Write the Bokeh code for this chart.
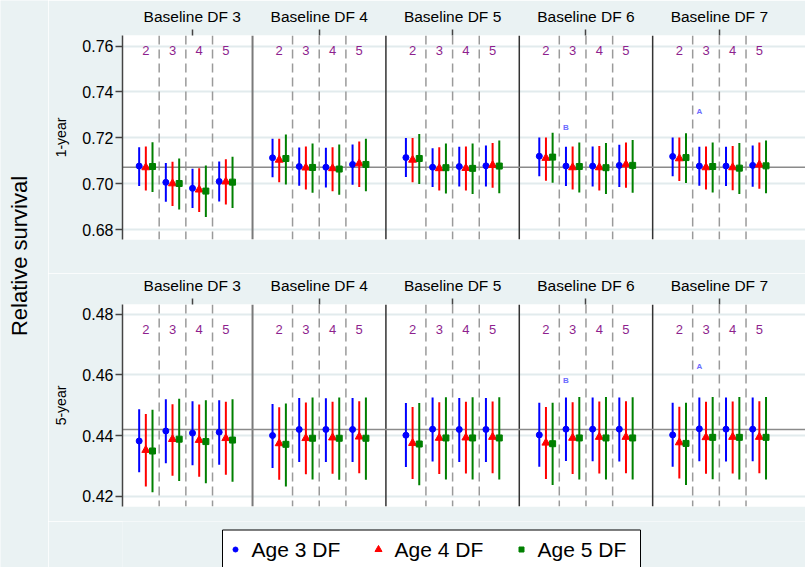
import math
from bokeh.plotting import figure
from bokeh.layouts import row, column
from bokeh.models import Range1d, FixedTicker, Span, PrintfTickFormatter
from bokeh.core.properties import value
from bokeh.embed import file_html
from bokeh.resources import INLINE

FONT = "Liberation Sans"
BG = "#eaf2f3"
PURPLE = "#8e1f8e"
GRID = "#e2ebed"

# ---------------- data ----------------
baseline_labels = ["Baseline DF 3", "Baseline DF 4", "Baseline DF 5", "Baseline DF 6", "Baseline DF 7"]
baseline_tick_pos = [2.74, 7.5, 12.5, 17.5, 22.5]
td_df_labels = ["2", "3", "4", "5"]
series_names = ["Age 3 DF", "Age 4 DF", "Age 5 DF"]
series_colors = ["#0000ff", "#ff0000", "#008000"]
series_markers = ["circle", "triangle", "square"]
series_sizes = [6, 8, 6]
series_offsets = [-0.25, 0.0, 0.25]

yticks_1y = [0.68, 0.70, 0.72, 0.74, 0.76]
yticks_5y = [0.42, 0.44, 0.46, 0.48]

# order: baseline DF 3..7, each with time-dependent DF 2..5
age3_est_1y = [0.7077, 0.7006, 0.6980, 0.7010, 0.7113, 0.7075, 0.7072, 0.7084, 0.7114, 0.7072,
               0.7075, 0.7078, 0.7120, 0.7077, 0.7077, 0.7080, 0.7119, 0.7077, 0.7077, 0.7080]
age3_lo_1y = [0.6990, 0.6922, 0.6894, 0.6923, 0.7028, 0.6991, 0.6984, 0.6996, 0.7029, 0.6986,
              0.6988, 0.6988, 0.7033, 0.6990, 0.6988, 0.6986, 0.7033, 0.6991, 0.6990, 0.6987]
age3_hi_1y = [0.7159, 0.7090, 0.7065, 0.7097, 0.7196, 0.7158, 0.7157, 0.7171, 0.7199, 0.7155,
              0.7161, 0.7167, 0.7201, 0.7161, 0.7162, 0.7170, 0.7201, 0.7161, 0.7161, 0.7167]
age4_est_1y = [0.7071, 0.7001, 0.6974, 0.7009, 0.7104, 0.7070, 0.7067, 0.7088, 0.7104, 0.7067,
               0.7068, 0.7081, 0.7112, 0.7071, 0.7071, 0.7084, 0.7110, 0.7071, 0.7071, 0.7083]
age4_lo_1y = [0.6970, 0.6903, 0.6877, 0.6909, 0.7007, 0.6975, 0.6967, 0.6986, 0.7007, 0.6970,
              0.6970, 0.6983, 0.7013, 0.6975, 0.6970, 0.6983, 0.7012, 0.6975, 0.6972, 0.6978]
age4_hi_1y = [0.7162, 0.7096, 0.7068, 0.7107, 0.7196, 0.7162, 0.7159, 0.7184, 0.7199, 0.7159,
              0.7162, 0.7178, 0.7201, 0.7162, 0.7165, 0.7180, 0.7201, 0.7162, 0.7164, 0.7180]
age5_est_1y = [0.7075, 0.7001, 0.6968, 0.7007, 0.7110, 0.7071, 0.7064, 0.7084, 0.7110, 0.7070,
               0.7067, 0.7077, 0.7116, 0.7075, 0.7070, 0.7080, 0.7114, 0.7075, 0.7068, 0.7078]
age5_lo_1y = [0.6964, 0.6888, 0.6855, 0.6894, 0.6997, 0.6961, 0.6952, 0.6967, 0.6999, 0.6957,
              0.6955, 0.6959, 0.7004, 0.6962, 0.6955, 0.6961, 0.7003, 0.6962, 0.6955, 0.6959]
age5_hi_1y = [0.7181, 0.7110, 0.7080, 0.7118, 0.7215, 0.7175, 0.7171, 0.7196, 0.7217, 0.7175,
              0.7175, 0.7188, 0.7222, 0.7180, 0.7178, 0.7191, 0.7220, 0.7180, 0.7177, 0.7188]

age3_est_5y = [0.4382, 0.4415, 0.4408, 0.4411, 0.4400, 0.4420, 0.4420, 0.4420, 0.4401, 0.4421,
               0.4420, 0.4420, 0.4402, 0.4421, 0.4421, 0.4421, 0.4402, 0.4422, 0.4421, 0.4421]
age3_lo_5y = [0.4279, 0.4309, 0.4302, 0.4304, 0.4293, 0.4313, 0.4313, 0.4313, 0.4296, 0.4314,
              0.4313, 0.4313, 0.4297, 0.4316, 0.4315, 0.4314, 0.4297, 0.4315, 0.4314, 0.4315]
age3_hi_5y = [0.4487, 0.4520, 0.4513, 0.4516, 0.4504, 0.4524, 0.4523, 0.4524, 0.4507, 0.4525,
              0.4524, 0.4524, 0.4508, 0.4525, 0.4525, 0.4525, 0.4508, 0.4525, 0.4525, 0.4525]
age4_est_5y = [0.4352, 0.4388, 0.4385, 0.4391, 0.4374, 0.4391, 0.4393, 0.4396, 0.4375, 0.4392,
               0.4393, 0.4395, 0.4376, 0.4392, 0.4395, 0.4395, 0.4377, 0.4394, 0.4395, 0.4395]
age4_lo_5y = [0.4232, 0.4267, 0.4264, 0.4271, 0.4254, 0.4272, 0.4274, 0.4276, 0.4257, 0.4273,
              0.4275, 0.4276, 0.4257, 0.4273, 0.4275, 0.4276, 0.4258, 0.4274, 0.4275, 0.4276]
age4_hi_5y = [0.4471, 0.4503, 0.4502, 0.4511, 0.4493, 0.4509, 0.4511, 0.4513, 0.4494, 0.4510,
              0.4511, 0.4512, 0.4494, 0.4510, 0.4512, 0.4513, 0.4495, 0.4511, 0.4512, 0.4513]
age5_est_5y = [0.4349, 0.4388, 0.4380, 0.4385, 0.4371, 0.4391, 0.4391, 0.4391, 0.4372, 0.4392,
               0.4392, 0.4392, 0.4373, 0.4392, 0.4392, 0.4392, 0.4374, 0.4394, 0.4394, 0.4394]
age5_lo_5y = [0.4213, 0.4250, 0.4243, 0.4248, 0.4232, 0.4255, 0.4254, 0.4254, 0.4236, 0.4255,
              0.4255, 0.4255, 0.4237, 0.4255, 0.4255, 0.4255, 0.4237, 0.4256, 0.4255, 0.4255]
age5_hi_5y = [0.4485, 0.4521, 0.4516, 0.4520, 0.4506, 0.4525, 0.4525, 0.4525, 0.4507, 0.4526,
              0.4526, 0.4526, 0.4508, 0.4527, 0.4527, 0.4526, 0.4508, 0.4527, 0.4527, 0.4527]

ref_1y = 0.7072
ref_5y = 0.4420

annot_text = ["B", "A"]
annot_baseline = [3, 4]
annot_td = [1, 1]
annot_1y = [0.7247, 0.7316]
annot_5y = [0.4583, 0.4626]

label_y_1y = 0.7582
label_y_5y = 0.4750

# ---------------- layout helpers ----------------
n_base = len(baseline_labels)
n_td = len(td_df_labels)
group_x = [5 * b + 1 + g for b in range(n_base) for g in range(n_td)]
dash_x = [5 * b + 1.5 + k for b in range(n_base) for k in range(n_td - 1)]
solid_x = [5 * b for b in range(1, n_base)]
annot_x = [5 * b + 1 + g + series_offsets[0] for b, g in zip(annot_baseline, annot_td)]

W_TOTAL = 805
H_TOTAL = 567
W_LEFT = 48
W_MAIN = W_TOTAL - W_LEFT
B_LEFT = 74
H_TOP = 273
H_BOT = 248
H_LEG = H_TOTAL - H_TOP - H_BOT


def make_panel(yr, yticks, ylabel, series, ref, label_y, annot_y, height, b_top, b_bottom):
    p = figure(width=W_MAIN, height=height, x_range=Range1d(0.125, 25.73), y_range=Range1d(*yr),
               x_axis_location="above", output_backend="svg", toolbar_location=None,
               min_border_left=B_LEFT, min_border_right=0, min_border_top=b_top, min_border_bottom=b_bottom,
               background_fill_color="white", border_fill_color=BG, outline_line_color=None)
    p.xgrid.visible = False
    p.ygrid.ticker = FixedTicker(ticks=yticks)
    p.ygrid.grid_line_color = GRID
    p.ygrid.grid_line_width = 2

    xa = p.xaxis[0]
    xa.ticker = FixedTicker(ticks=baseline_tick_pos)
    xa.major_label_overrides = {t: l for t, l in zip(baseline_tick_pos, baseline_labels)}
    xa.axis_line_color = None
    xa.major_tick_in = 0
    xa.major_tick_out = 6
    xa.major_tick_line_color = "#444444"
    xa.major_tick_line_width = 1.5
    xa.minor_tick_line_color = None
    xa.major_label_text_font = FONT
    xa.major_label_text_font_size = "15.5px"
    xa.major_label_text_color = "black"
    xa.major_label_standoff = 5

    ya = p.yaxis[0]
    ya.ticker = FixedTicker(ticks=yticks)
    ya.formatter = PrintfTickFormatter(format="%.2f")
    ya.axis_line_color = "#444444"
    ya.axis_line_width = 1.5
    ya.major_tick_in = 0
    ya.major_tick_out = 7
    ya.major_tick_line_color = "#444444"
    ya.major_tick_line_width = 1.5
    ya.minor_tick_line_color = None
    ya.major_label_text_font = FONT
    ya.major_label_text_font_size = "16px"
    ya.major_label_text_color = "black"
    ya.major_label_standoff = 2
    ya.axis_label = ylabel
    ya.axis_label_text_font = FONT
    ya.axis_label_text_font_size = "14px"
    ya.axis_label_text_font_style = "normal"
    ya.axis_label_text_color = "black"
    ya.axis_label_standoff = 10

    for xv in dash_x:
        p.add_layout(Span(location=xv, dimension="height", line_color="#9a9a9a",
                          line_width=1.5, line_dash="9 5", level="underlay"))
    for i, xv in enumerate(solid_x):
        p.add_layout(Span(location=xv, dimension="height",
                          line_color="#7a7a7a" if i == 0 else "#333333",
                          line_width=2 if i == 0 else 1.5, level="underlay"))
    p.add_layout(Span(location=ref, dimension="width", line_color="#8a8a8a",
                      line_width=1.5, level="underlay"))

    for (est, lo, hi), col, mk, sz, off in zip(series, series_colors, series_markers,
                                               series_sizes, series_offsets):
        xs = [x + off for x in group_x]
        p.segment(x0=xs, y0=lo, x1=xs, y1=hi, line_color=col, line_width=2)
        p.scatter(x=xs, y=est, marker=mk, size=sz, fill_color=col, line_color=col)

    p.text(x=group_x, y=[label_y] * len(group_x), text=td_df_labels * n_base,
           text_font=value(FONT), text_font_size="13px", text_color=PURPLE,
           text_align="center", text_baseline="middle")
    p.text(x=annot_x, y=annot_y, text=annot_text, text_font=value(FONT),
           text_font_size="8px", text_font_style="bold", text_color="#6a6aff",
           text_align="center", text_baseline="middle")
    return p


series_1y = [(age3_est_1y, age3_lo_1y, age3_hi_1y),
             (age4_est_1y, age4_lo_1y, age4_hi_1y),
             (age5_est_1y, age5_lo_1y, age5_hi_1y)]
series_5y = [(age3_est_5y, age3_lo_5y, age3_hi_5y),
             (age4_est_5y, age4_lo_5y, age4_hi_5y),
             (age5_est_5y, age5_lo_5y, age5_hi_5y)]

top = make_panel((0.6757, 0.7646), yticks_1y, "1-year", series_1y, ref_1y, label_y_1y, annot_1y,
                 height=H_TOP, b_top=35, b_bottom=34)
bottom = make_panel((0.4166, 0.4832), yticks_5y, "5-year", series_5y, ref_5y, label_y_5y, annot_5y,
                    height=H_BOT, b_top=29, b_bottom=15)

# legend strip (coordinates in page pixels; frame spans x 122..805, y 521..567)
X0 = W_LEFT + B_LEFT
Y0 = H_TOP + H_BOT
leg = figure(width=W_MAIN, height=H_LEG, x_range=Range1d(X0, W_TOTAL), y_range=Range1d(H_TOTAL, Y0),
             x_axis_location=None, y_axis_location=None, output_backend="svg",
             toolbar_location=None, min_border_left=B_LEFT, min_border_right=0,
             min_border_top=0, min_border_bottom=0, background_fill_color=BG,
             border_fill_color=BG, outline_line_color=None)
leg.grid.visible = False
leg.quad(left=[222], right=[640], top=[529.5], bottom=[H_TOTAL + 10], fill_color="white",
         line_color="black", line_width=1)
leg_mx = [235 + 143 * i for i in range(len(series_names))]
for i, (nm, col, mk) in enumerate(zip(series_names, series_colors, series_markers)):
    leg.scatter(x=[leg_mx[i]], y=[549], marker=mk, size=[5, 7, 5][i], fill_color=col, line_color=col)
leg.text(x=[m + 16 for m in leg_mx], y=[549] * 3, text=series_names, text_font=value(FONT),
         text_font_size="21px", text_color="black", text_align="left", text_baseline="middle")

# left title strip
lab = figure(width=W_LEFT, height=H_TOTAL, x_range=Range1d(0, W_LEFT), y_range=Range1d(H_TOTAL, 0),
             x_axis_location=None, y_axis_location=None, output_backend="svg",
             toolbar_location=None, min_border=0, background_fill_color=BG,
             border_fill_color=BG, outline_line_color=None)
lab.grid.visible = False
lab.text(x=[19], y=[255.5], text=["Relative survival"], angle=math.pi / 2, text_font=value(FONT),
         text_font_size="22px", text_color="black", text_align="center", text_baseline="middle")

layout = row(lab, column(top, bottom, leg))
open("out.html", "w").write(file_html(layout, INLINE))
